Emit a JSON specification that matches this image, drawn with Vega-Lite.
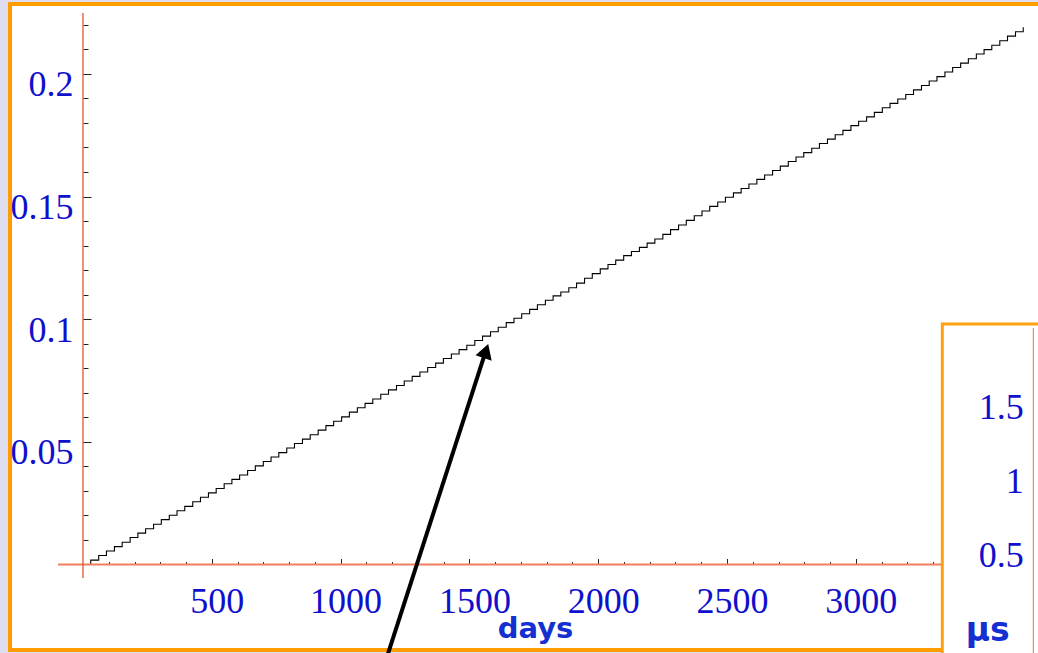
{
  "$schema": "https://vega.github.io/schema/vega-lite/v6.json",
  "width": 1030,
  "height": 646,
  "autosize": {"type": "none"},
  "padding": {"left": 10, "top": 4, "right": -2, "bottom": 3},
  "background": "#dedef0",
  "config": {
    "view": {"fill": "white", "stroke": "#ff9c00", "strokeWidth": 4},
    "axis": {
      "labelFont": "Liberation Serif",
      "labelFontSize": 36,
      "labelColor": "#1010cc",
      "domain": false,
      "grid": false,
      "tickColor": "#222222",
      "tickWidth": 1,
      "labelFlush": false,
      "labelOverlap": false,
      "labelBound": false
    }
  },
  "datasets": {
    "series": [
      {"d":0,"v":0},{"d":30,"v":0.0018},{"d":61,"v":0.0037},{"d":91,"v":0.0055},{"d":122,"v":0.0073},{"d":152,"v":0.0091},{"d":183,"v":0.0110},{"d":213,"v":0.0128},{"d":243,"v":0.0146},{"d":274,"v":0.0164},
      {"d":304,"v":0.0183},{"d":335,"v":0.0201},{"d":365,"v":0.0219},{"d":395,"v":0.0237},{"d":426,"v":0.0256},{"d":456,"v":0.0274},{"d":487,"v":0.0292},{"d":517,"v":0.0310},{"d":548,"v":0.0329},{"d":578,"v":0.0347},
      {"d":608,"v":0.0365},{"d":639,"v":0.0383},{"d":669,"v":0.0402},{"d":700,"v":0.0420},{"d":730,"v":0.0438},{"d":760,"v":0.0456},{"d":791,"v":0.0475},{"d":821,"v":0.0493},{"d":852,"v":0.0511},{"d":882,"v":0.0529},
      {"d":913,"v":0.0548},{"d":943,"v":0.0566},{"d":973,"v":0.0584},{"d":1004,"v":0.0602},{"d":1034,"v":0.0621},{"d":1065,"v":0.0639},{"d":1095,"v":0.0657},{"d":1125,"v":0.0675},{"d":1156,"v":0.0694},{"d":1186,"v":0.0712},
      {"d":1217,"v":0.0730},{"d":1247,"v":0.0748},{"d":1278,"v":0.0767},{"d":1308,"v":0.0785},{"d":1338,"v":0.0803},{"d":1369,"v":0.0821},{"d":1399,"v":0.0840},{"d":1430,"v":0.0858},{"d":1460,"v":0.0876},{"d":1490,"v":0.0894},
      {"d":1521,"v":0.0913},{"d":1551,"v":0.0931},{"d":1582,"v":0.0949},{"d":1612,"v":0.0967},{"d":1643,"v":0.0986},{"d":1673,"v":0.1004},{"d":1703,"v":0.1022},{"d":1734,"v":0.1040},{"d":1764,"v":0.1059},{"d":1795,"v":0.1077},
      {"d":1825,"v":0.1095},{"d":1855,"v":0.1111},{"d":1886,"v":0.1128},{"d":1916,"v":0.1147},{"d":1947,"v":0.1167},{"d":1977,"v":0.1186},{"d":2008,"v":0.1205},{"d":2038,"v":0.1223},{"d":2068,"v":0.1241},{"d":2099,"v":0.1259},
      {"d":2129,"v":0.1276},{"d":2160,"v":0.1293},{"d":2190,"v":0.1310},{"d":2220,"v":0.1327},{"d":2251,"v":0.1346},{"d":2281,"v":0.1365},{"d":2312,"v":0.1384},{"d":2342,"v":0.1403},{"d":2373,"v":0.1422},{"d":2403,"v":0.1441},
      {"d":2433,"v":0.1460},{"d":2464,"v":0.1478},{"d":2494,"v":0.1497},{"d":2525,"v":0.1515},{"d":2555,"v":0.1533},{"d":2585,"v":0.1551},{"d":2616,"v":0.1570},{"d":2646,"v":0.1588},{"d":2677,"v":0.1606},{"d":2707,"v":0.1624},
      {"d":2738,"v":0.1643},{"d":2768,"v":0.1661},{"d":2798,"v":0.1679},{"d":2829,"v":0.1697},{"d":2859,"v":0.1716},{"d":2890,"v":0.1734},{"d":2920,"v":0.1752},{"d":2950,"v":0.1770},{"d":2981,"v":0.1789},{"d":3011,"v":0.1807},
      {"d":3042,"v":0.1825},{"d":3072,"v":0.1843},{"d":3103,"v":0.1862},{"d":3133,"v":0.1880},{"d":3163,"v":0.1898},{"d":3194,"v":0.1916},{"d":3224,"v":0.1935},{"d":3255,"v":0.1953},{"d":3285,"v":0.1971},{"d":3315,"v":0.1989},
      {"d":3346,"v":0.2008},{"d":3376,"v":0.2026},{"d":3407,"v":0.2044},{"d":3437,"v":0.2062},{"d":3468,"v":0.2081},{"d":3498,"v":0.2099},{"d":3528,"v":0.2117},{"d":3559,"v":0.2135},{"d":3589,"v":0.2154},{"d":3620,"v":0.2172},
      {"d":3650,"v":0.2190}
    ]
  },
  "layer": [
    {
      "data": {"name": "series"},
      "mark": {"type": "line", "interpolate": "step-after", "color": "black", "strokeWidth": 1.1},
      "encoding": {
        "x": {
          "field": "d", "type": "quantitative",
          "scale": {"domain": [-283.4, 3715.1], "nice": false, "zero": false},
          "axis": {
            "orient": "bottom", "offset": -85.5,
            "values": [500, 1000, 1500, 2000, 2500, 3000],
            "tickSize": -6, "labelPadding": 53.5, "labelOffset": 5,
            "labelBaseline": "alphabetic", "format": "d",
            "title": "days", "titleFont": "DejaVu Sans", "titleFontWeight": "bold",
            "titleFontSize": 29, "titleColor": "#1530d0",
            "titleX": 525, "titleY": 73, "titleAlign": "center", "titleBaseline": "alphabetic"
          }
        },
        "y": {
          "field": "v", "type": "quantitative",
          "scale": {"domain": [-0.034855, 0.2285], "nice": false, "zero": false},
          "axis": {
            "orient": "left", "offset": -73,
            "values": [0.05, 0.1, 0.15, 0.2],
            "tickSize": -8, "labelPadding": 18, "labelOffset": 22,
            "labelBaseline": "alphabetic", "format": ".3~g", "title": null
          }
        }
      }
    },
    {
      "data": {"values": [{"x": -97, "x2": 3715, "y": 0}]},
      "mark": {"type": "rule", "color": "#ee7e5c", "strokeWidth": 2},
      "encoding": {
        "x": {
          "field": "x", "type": "quantitative",
          "scale": {"domain": [-283.4, 3715.1], "nice": false, "zero": false},
          "axis": {
            "orient": "bottom", "offset": -85.5,
            "values": [100,200,300,400,500,600,700,800,900,1000,1100,1200,1300,1400,1500,1600,1700,1800,1900,2000,2100,2200,2300,2400,2500,2600,2700,2800,2900,3000,3100,3200,3300],
            "tickSize": -3, "labels": false, "title": null
          }
        },
        "x2": {"field": "x2"},
        "y": {
          "field": "y", "type": "quantitative",
          "scale": {"domain": [-0.034855, 0.2285], "nice": false, "zero": false},
          "axis": {
            "orient": "left", "offset": -73,
            "values": [0.01,0.02,0.03,0.04,0.05,0.06,0.07,0.08,0.09,0.1,0.11,0.12,0.13,0.14,0.15,0.16,0.17,0.18,0.19,0.2,0.21,0.22],
            "tickSize": -5, "labels": false, "title": null
          }
        }
      }
    },
    {
      "data": {"values": [{"x": 0, "y": -0.0055, "y2": 0.2248}]},
      "mark": {"type": "rule", "color": "#dc4a1e", "strokeWidth": 1.2},
      "encoding": {
        "x": {"field": "x", "type": "quantitative", "scale": {"domain": [-283.4, 3715.1], "nice": false, "zero": false}, "axis": null},
        "y": {"field": "y", "type": "quantitative", "scale": {"domain": [-0.034855, 0.2285], "nice": false, "zero": false}, "axis": null},
        "y2": {"field": "y2"}
      }
    },
    {
      "data": {"values": [{"x": 1176.2, "y": -0.0389, "x2": 1561, "y2": 0.0862}]},
      "mark": {"type": "rule", "color": "black", "strokeWidth": 4, "strokeCap": "butt"},
      "encoding": {
        "x": {"field": "x", "type": "quantitative", "scale": {"domain": [-283.4, 3715.1], "nice": false, "zero": false}, "axis": null},
        "x2": {"field": "x2"},
        "y": {"field": "y", "type": "quantitative", "scale": {"domain": [-0.034855, 0.2285], "nice": false, "zero": false}, "axis": null},
        "y2": {"field": "y2"}
      }
    },
    {
      "data": {"values": [{"x": 1564.1, "y": 0.08704}]},
      "mark": {"type": "point", "shape": "triangle-up", "size": 289, "angle": 18.2, "filled": true, "color": "black", "opacity": 1},
      "encoding": {
        "x": {"field": "x", "type": "quantitative", "scale": {"domain": [-283.4, 3715.1], "nice": false, "zero": false}, "axis": null},
        "y": {"field": "y", "type": "quantitative", "scale": {"domain": [-0.034855, 0.2285], "nice": false, "zero": false}, "axis": null}
      }
    },
    {
      "data": {"values": [{"x": 3335.8, "x2": 3800, "u": 2.0541, "u2": -0.4}]},
      "mark": {"type": "rect", "fill": "white", "stroke": "#ffa010", "strokeWidth": 3},
      "encoding": {
        "x": {"field": "x", "type": "quantitative", "scale": {"domain": [-283.4, 3715.1], "nice": false, "zero": false}, "axis": null},
        "x2": {"field": "x2"},
        "y": {
          "field": "u", "type": "quantitative",
          "scale": {"domain": [-0.14865, 4.2162], "nice": false, "zero": false},
          "axis": {
            "orient": "right", "offset": -6.7, "zindex": 1,
            "values": [0.5, 1, 1.5], "ticks": false,
            "labelAlign": "right", "labelPadding": -10, "labelBaseline": "alphabetic", "labelOffset": 12.5,
            "format": ".2~g",
            "title": "μs", "titleAngle": 0, "titleX": -46, "titleY": 636,
            "titleAlign": "center", "titleBaseline": "alphabetic",
            "titleFont": "DejaVu Sans", "titleFontWeight": "bold", "titleFontSize": 33, "titleColor": "#1530d0"
          }
        },
        "y2": {"field": "u2"}
      }
    },
    {
      "data": {"values": [{"x": 3689.1, "u": 2.027, "u2": -0.4}]},
      "mark": {"type": "rule", "color": "#e8704a", "strokeWidth": 1},
      "encoding": {
        "x": {"field": "x", "type": "quantitative", "scale": {"domain": [-283.4, 3715.1], "nice": false, "zero": false}, "axis": null},
        "y": {"field": "u", "type": "quantitative", "scale": {"domain": [-0.14865, 4.2162], "nice": false, "zero": false}, "axis": null},
        "y2": {"field": "u2"}
      }
    }
  ],
  "resolve": {
    "scale": {"x": "independent", "y": "independent"},
    "axis": {"x": "independent", "y": "independent"}
  }
}
